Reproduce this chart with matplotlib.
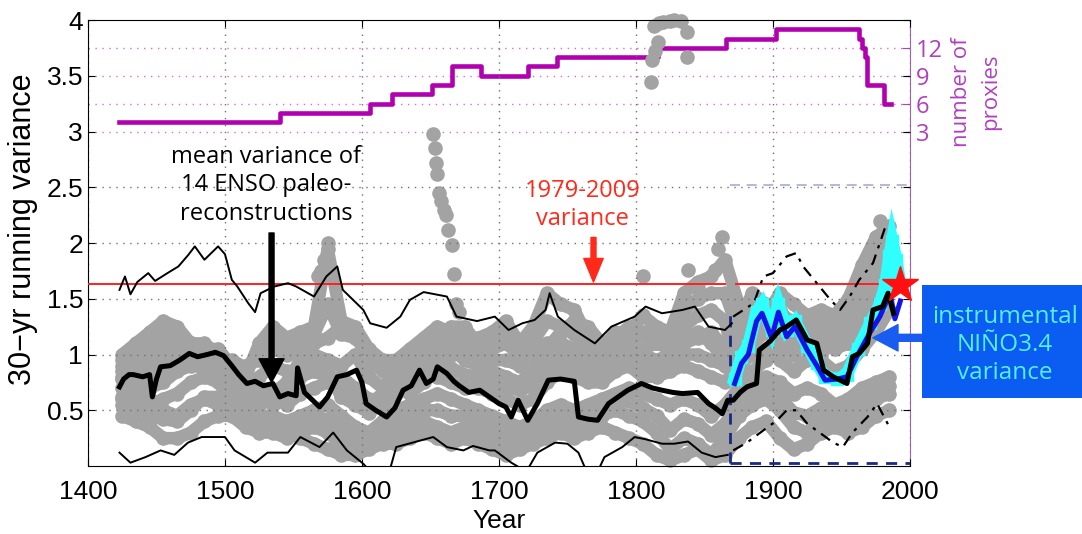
import matplotlib
matplotlib.use("Agg")
import matplotlib.pyplot as plt
from matplotlib.patches import Rectangle

# ============================================================
# DADOS
# ============================================================
# variancia de cada proxy (pontos cinzas), a cada 10 anos
GRAY_YR = list(range(1425, 1986, 10))
G1 = [1.00, 1.10, 1.20, 1.30, 1.25, 1.10, 1.05, 1.05, 0.90, 0.80, 1.10,
      1.25, 1.15, 1.20, 1.25, 1.95, 1.30, 1.25, 1.05, 0.95, 0.95, 1.05,
      1.15, 1.25, 1.20, 1.15, 1.15, 1.20, 1.30, 1.10, 1.25, 1.55, 1.45,
      1.40, 1.15, 1.05, 1.20, 1.20, 1.35, 1.25, 1.20, 1.55, 1.65, 1.70,
      1.85, 1.45, 1.40, 1.35, 1.55, 1.45, 1.35, 1.40, 1.35, 1.50, 1.80, 2.05, 2.15]
G2 = [0.85, 0.90, 0.95, 1.00, 1.05, 1.10, 1.10, 1.00, 0.80, 0.75, 0.70,
      0.65, 0.75, 0.95, 1.00, 0.95, 0.90, 1.00, 0.80, 0.70, 0.85, 0.90,
      1.00, 1.10, 1.05, 0.95, 0.90, 0.85, 0.80, 0.75, 0.85, 1.00, 1.10,
      1.05, 0.95, 0.90, 1.00, 1.05, 1.00, 0.95, 1.00, 1.10, 1.15, 1.20,
      1.05, 1.10, 1.20, 1.35, 1.20, 1.10, 1.30, 1.20, 1.15, 1.25, 1.55, 1.85, 1.95]
G3 = [0.70, 0.75, 0.70, 0.75, 0.85, 0.90, 0.95, 0.90, 0.70, 0.60, 0.55,
      0.60, 0.55, 0.65, 0.70, 0.75, 0.80, 0.70, 0.60, 0.55, 0.65, 0.75,
      0.85, 0.80, 0.75, 0.70, 0.70, 0.65, 0.60, 0.55, 0.60, 0.75, 0.85,
      0.80, 0.75, 0.75, 0.85, 0.90, 0.80, 0.80, 0.85, 0.90, 0.85, 0.80,
      0.75, 0.90, 1.00, 1.05, 0.95, 0.85, 0.95, 1.05, 1.25, 1.10, 1.35, 1.55, 1.70]
G4 = [0.55, 0.50, 0.55, 0.60, 0.65, 0.75, 0.80, 0.75, 0.60, 0.50, 0.45,
      0.45, 0.40, 0.45, 0.50, 0.55, 0.45, 0.35, 0.30, 0.40, 0.50, 0.55,
      0.60, 0.65, 0.60, 0.55, 0.50, 0.45, 0.40, 0.35, 0.40, 0.50, 0.55,
      0.50, 0.55, 0.60, 0.65, 0.70, 0.65, 0.60, 0.55, 0.60, 0.55, 0.45,
      0.55, 0.70, 0.75, 0.80, 0.75, 0.65, 0.70, 0.65, 0.55, 0.60, 0.70, 0.75, 0.80]
G5 = [0.45, 0.40, 0.35, 0.25, 0.25, 0.30, 0.40, 0.45, 0.45, 0.35, 0.30,
      0.30, 0.25, 0.30, 0.35, 0.30, 0.20, 0.15, 0.20, 0.25, 0.30, 0.35,
      0.40, 0.35, 0.30, 0.35, 0.30, 0.25, 0.20, 0.25, 0.30, 0.35, 0.40,
      0.35, 0.40, 0.45, 0.50, 0.45, 0.40, 0.30, 0.15, 0.25, 0.20, 0.10,
      0.25, 0.45, 0.55, 0.60, 0.50, 0.35, 0.30, 0.40, 0.45, 0.40, 0.45, 0.60, 0.65]
G6 = [0.95, 0.85, 0.80, 0.85, 0.95, 1.00, 0.95, 0.85, 0.75, 0.70, 0.80,
      0.90, 0.85, 0.80, 0.85, 0.80, 0.70, 0.60, 0.55, 0.65, 0.70, 0.65,
      0.75, 0.95, 1.00, 1.05, 1.00, 1.05, 1.10, 1.00, 0.95, 1.05, 1.20,
      1.30, 1.25, 1.10, 1.15, 1.25, 1.20, 1.10, 1.05, 1.15, 1.20, 1.10,
      0.95, 1.30, 1.55, 1.45, 1.40, 1.25, 1.10, 1.00, 1.15, 1.25, 1.35, 1.55, 1.75]
G7 = [0.60, 0.65, 0.60, 0.50, 0.45, 0.55, 0.60, 0.55, 0.50, 0.45, 0.40,
      0.35, 0.35, 0.25, 0.20, 0.15, 0.10, 0.10, 0.15, 0.20, 0.20, 0.25,
      0.30, 0.25, 0.20, 0.25, 0.20, 0.15, 0.10, 0.15, 0.20, 0.25, 0.30,
      0.25, 0.30, 0.35, 0.30, 0.25, 0.20, 0.10, 0.05, 0.10, 0.15, 0.05,
      0.10, 0.25, 0.35, 0.40, 0.25, 0.15, 0.20, 0.30, 0.35, 0.30, 0.35, 0.45, 0.50]
G8 = [0.80, 0.95, 1.05, 1.10, 1.05, 0.95, 0.85, 0.80, 0.85, 0.90, 0.95,
      1.05, 1.00, 1.05, 1.10, 1.15, 1.25, 1.20, 0.95, 0.85, 0.80, 0.85,
      0.95, 1.05, 1.15, 1.10, 1.00, 0.95, 0.95, 0.90, 1.00, 1.10, 1.00,
      0.95, 0.85, 0.80, 0.90, 0.95, 1.05, 1.10, 1.15, 1.25, 1.35, 1.40,
      1.30, 0.75, 0.85, 0.95, 1.05, 1.15, 1.05, 0.95, 0.85, 0.90, 1.05, 1.20, 1.40]
G9 = [0.78, 0.82, 0.88, 0.92, 0.95, 0.98, 1.02, 0.95, 0.78, 0.68, 0.62,
      0.55, 0.62, 0.85, 0.90, 0.85, 0.62, 0.55, 0.48, 0.62, 0.75, 0.80,
      0.90, 0.92, 0.88, 0.82, 0.80, 0.75, 0.70, 0.68, 0.72, 0.88, 0.95,
      0.92, 0.85, 0.82, 0.92, 0.98, 0.92, 0.88, 0.92, 1.00, 1.00, 0.95,
      0.90, 0.95, 1.10, 1.20, 1.10, 1.00, 1.20, 1.15, 1.05, 1.10, 1.45, 1.70, 1.85]
G10 = [0.62, 0.58, 0.45, 0.42, 0.40, 0.50, 0.62, 0.62, 0.55, 0.42, 0.38,
       0.38, 0.32, 0.38, 0.42, 0.42, 0.32, 0.25, 0.25, 0.32, 0.40, 0.45,
       0.50, 0.50, 0.45, 0.45, 0.40, 0.35, 0.30, 0.30, 0.35, 0.42, 0.48,
       0.42, 0.48, 0.52, 0.58, 0.58, 0.52, 0.45, 0.32, 0.42, 0.38, 0.28,
       0.38, 0.58, 0.65, 0.70, 0.62, 0.48, 0.45, 0.52, 0.50, 0.50, 0.58, 0.68, 0.72]
G11 = [0.90, 1.00, 1.12, 1.22, 1.15, 1.02, 0.98, 0.95, 0.95, 0.88, 1.00,
       1.15, 1.10, 1.12, 1.18, 1.45, 1.18, 1.15, 1.00, 0.92, 0.88, 0.95,
       1.05, 1.15, 1.25, 1.25, 1.08, 1.10, 1.18, 1.02, 1.12, 1.30, 1.25,
       1.18, 1.05, 0.95, 1.05, 1.10, 1.18, 1.18, 1.08, 1.40, 1.50, 1.55,
       1.55, 1.20, 1.30, 1.25, 1.35, 1.30, 1.20, 1.30, 1.25, 1.35, 1.65, 1.90, 2.00]
GRAY_TRACKS = [G1, G2, G3, G4, G5, G6, G7, G8, G9, G10, G11]

# pontos isolados (valores altos)
OUT_YR = [1652, 1653, 1654, 1655, 1656, 1658, 1660, 1661, 1663, 1666, 1667, 1669, 1671,
          1568, 1570, 1572, 1575, 1805, 1811, 1812, 1814, 1816, 1813, 1817, 1820, 1825,
          1828, 1833, 1837, 1837, 1838, 1845, 1858, 1860, 1863, 1975, 1978, 1982, 1986]
OUT_VAL = [2.98, 2.85, 2.72, 2.62, 2.45, 2.38, 2.30, 2.25, 2.12, 1.98, 1.72, 1.45, 1.38,
           1.70, 1.75, 1.85, 2.00, 1.70, 3.44, 3.64, 3.72, 3.80, 3.95, 3.97, 3.98, 3.99,
           4.00, 3.99, 3.89, 3.67, 1.76, 1.60, 1.76, 1.95, 2.05, 2.05, 2.20, 2.10, 2.00]

# media das 14 reconstrucoes
MEAN_YR = [1423, 1426, 1430, 1433, 1440, 1445, 1447, 1450, 1453, 1460, 1467, 1474,
           1480, 1487, 1493, 1499, 1505, 1510, 1516, 1522, 1528, 1535, 1540, 1546,
           1552, 1553, 1558, 1564, 1569, 1575, 1582, 1589, 1596, 1600, 1603, 1610,
           1618, 1624, 1630, 1636, 1642, 1647, 1652, 1655, 1662, 1667, 1671, 1678,
           1686, 1693, 1700, 1705, 1709, 1714, 1721, 1728, 1736, 1745, 1755, 1758,
           1765, 1772, 1780, 1787, 1794, 1804, 1812, 1819, 1827, 1834, 1845, 1853,
           1858, 1863, 1867, 1871, 1876, 1881, 1888, 1890, 1898, 1905, 1910, 1917,
           1925, 1932, 1937, 1944, 1954, 1958, 1963, 1969, 1973, 1980, 1984, 1988]
MEAN_VAL = [0.71, 0.78, 0.82, 0.82, 0.80, 0.82, 0.62, 0.78, 0.89, 0.90, 0.95, 1.01,
            0.98, 1.00, 1.02, 0.99, 0.90, 0.82, 0.74, 0.76, 0.72, 0.74, 0.62, 0.65,
            0.63, 0.88, 0.66, 0.59, 0.53, 0.62, 0.80, 0.82, 0.86, 0.75, 0.56, 0.50,
            0.44, 0.52, 0.68, 0.72, 0.86, 0.74, 0.78, 0.89, 0.83, 0.76, 0.72, 0.66,
            0.68, 0.62, 0.56, 0.53, 0.44, 0.59, 0.41, 0.56, 0.77, 0.78, 0.76, 0.44,
            0.42, 0.41, 0.56, 0.62, 0.68, 0.74, 0.70, 0.68, 0.66, 0.65, 0.66, 0.56,
            0.52, 0.47, 0.59, 0.59, 0.66, 0.71, 0.74, 1.04, 1.12, 1.22, 1.25, 1.31,
            1.13, 1.10, 0.86, 0.80, 0.74, 0.98, 1.01, 1.10, 1.40, 1.43, 1.55, 1.37]

# envelope superior / inferior (ate 1870 continuo, depois tracejado)
UP_YR = [1423, 1427, 1431, 1436, 1444, 1449, 1458, 1466, 1473, 1478, 1485, 1495,
         1500, 1505, 1509, 1517, 1522, 1526, 1536, 1546, 1552, 1565, 1574, 1582,
         1586, 1601, 1606, 1618, 1628, 1635, 1645, 1662, 1669, 1684, 1697, 1707,
         1717, 1726, 1734, 1737, 1743, 1755, 1770, 1782, 1799, 1807, 1819, 1834,
         1843, 1853, 1865, 1870]
UP_VAL = [1.58, 1.70, 1.54, 1.65, 1.73, 1.66, 1.73, 1.79, 1.89, 1.97, 1.85, 1.97,
          1.90, 1.67, 1.61, 1.46, 1.38, 1.55, 1.61, 1.64, 1.61, 1.52, 1.70, 1.79,
          1.58, 1.40, 1.28, 1.24, 1.34, 1.49, 1.56, 1.52, 1.34, 1.30, 1.34, 1.22,
          1.28, 1.31, 1.40, 1.55, 1.34, 1.22, 1.10, 1.25, 1.34, 1.43, 1.37, 1.40,
          1.43, 1.25, 1.22, 1.28]
UP2_YR = [1871, 1886, 1893, 1900, 1910, 1917, 1922, 1932, 1942, 1949, 1956, 1963, 1973, 1983]
UP2_VAL = [1.34, 1.46, 1.70, 1.73, 1.88, 1.91, 1.79, 1.64, 1.49, 1.40, 1.52, 1.67, 1.82, 2.18]

LO_YR = [1423, 1431, 1442, 1453, 1463, 1473, 1483, 1492, 1500, 1507, 1522, 1531,
         1546, 1555, 1569, 1579, 1589, 1601, 1606, 1613, 1620, 1625, 1637, 1652,
         1662, 1674, 1681, 1693, 1697, 1709, 1720, 1728, 1741, 1750, 1758, 1764,
         1772, 1777, 1790, 1799, 1807, 1819, 1828, 1838, 1848, 1858, 1867]
LO_VAL = [0.12, 0.03, 0.08, 0.14, 0.10, 0.21, 0.26, 0.26, 0.26, 0.14, 0.03, 0.12,
          0.12, 0.26, 0.17, 0.30, 0.14, 0.02, -0.05, -0.05, -0.05, 0.17, 0.21, 0.26,
          0.17, 0.14, 0.18, 0.14, 0.14, 0.03, -0.05, 0.12, 0.21, 0.20, 0.12, -0.05,
          -0.05, 0.08, 0.17, 0.26, 0.24, 0.20, 0.20, 0.22, 0.12, 0.08, 0.10]
LO2_YR = [1871, 1881, 1893, 1903, 1910, 1917, 1925, 1934, 1944, 1951, 1958, 1969, 1976, 1985]
LO2_VAL = [0.14, 0.21, 0.32, 0.41, 0.50, 0.50, 0.38, 0.30, 0.21, 0.17, 0.30, 0.44, 0.56, 0.35]

# NINO3.4 instrumental (azul) e segunda serie (ciano)
NINO_YR = [1872, 1877, 1882, 1888, 1892, 1899, 1904, 1910, 1916, 1925, 1932,
           1938, 1947, 1954, 1962, 1971, 1978, 1983, 1986, 1989, 1993]
NINO_VAL = [0.74, 0.92, 1.00, 1.30, 1.37, 1.15, 1.38, 1.16, 1.25, 1.04, 0.90,
            0.77, 0.78, 0.80, 1.00, 1.20, 1.34, 1.48, 1.52, 1.32, 1.48]
NINO2_YR = [1872, 1877, 1882, 1888, 1892, 1899, 1904, 1910, 1916, 1925, 1932,
            1938, 1947, 1954, 1962, 1971, 1978, 1982, 1985, 1987, 1990, 1993]
NINO2_VAL = [0.78, 0.98, 1.08, 1.38, 1.45, 1.22, 1.45, 1.22, 1.30, 1.08, 0.92,
             0.80, 0.78, 0.82, 1.05, 1.28, 1.45, 1.62, 1.88, 2.02, 1.85, 1.62]

# numero de proxies (eixo da direita)
PROXY_YR = [1423, 1540, 1606, 1622, 1651, 1666, 1687, 1721, 1742, 1816, 1866,
            1902, 1963, 1965, 1967, 1969, 1981, 1986]
PROXY_N = [4, 5, 6, 7, 8, 10, 9, 10, 11, 12, 13, 14, 13, 12, 11, 8, 6, 6]

RECENT_VAR = 1.63          # variancia 1979-2009
RED_SPANS = [(1400, 1866), (1872, 1993)]
STAR_YR, STAR_VAL = 1993, 1.62

# ============================================================
# FIGURA
# ============================================================
GRAY = "#a3a3a3"
PURPLE = "#b000b0"
PTEXT = "#b040c0"
ANNOT_FONT = ["Open Sans", "DejaVu Sans"]
AXES_FONT = ["Liberation Sans", "DejaVu Sans"]

fig = plt.figure(figsize=(10.82, 5.34), dpi=100)
ax = fig.add_axes([0.0813, 0.1273, 0.7597, 0.8352])
ax2 = ax.twinx()
ax.set_zorder(ax2.get_zorder() + 1)
ax.patch.set_visible(False)

# eixo de proxies
ax2.plot(PROXY_YR, PROXY_N, drawstyle="steps-post", color=PURPLE, lw=3.3)
ax2.set_ylim(-33, 15)
ax2.set_yticks([3, 6, 9, 12])
ax2.tick_params(axis="y", colors=PTEXT, direction="in", length=6, labelsize=17, pad=4)
for lab in ax2.get_yticklabels():
    lab.set_fontfamily(ANNOT_FONT)
ax2.grid(axis="y", ls=(0, (1, 4)), color="#d070d0", lw=1.0)
ax2.spines["right"].set_color("#a060b0")
ax2.spines["top"].set_visible(False)
ax2.spines["left"].set_visible(False)
ax2.spines["bottom"].set_visible(False)

# pontos cinzas
for g in GRAY_TRACKS:
    ax.plot(GRAY_YR, g, color=GRAY, lw=9, marker="o", ms=9.5, mec=GRAY,
            solid_capstyle="round", solid_joinstyle="round", clip_on=False, zorder=1)
ax.plot(OUT_YR, OUT_VAL, "o", color=GRAY, ms=9.5, clip_on=False, zorder=1)

# caixa tracejada (periodo instrumental)
ax.hlines(0.03, 1869, 2000, colors="#1a2a80", linestyles=(0, (4, 3)), lw=2, zorder=3)
ax.vlines(1869, 0.03, 1.4, colors="#1a2a80", linestyles=(0, (4, 3)), lw=2, zorder=3)
ax.hlines(2.52, 1869, 2000, colors="#a8acd8", linestyles=(0, (6, 4)), lw=1.2, zorder=3)

# variancia recente
for x0, x1 in RED_SPANS:
    ax.hlines(RECENT_VAR, x0, x1, colors="#ff2020", lw=1.4, zorder=3)

# envelopes
ax.plot(UP_YR, UP_VAL, color="k", lw=1.4, zorder=4)
ax.plot(LO_YR, LO_VAL, color="k", lw=1.4, zorder=4)
ax.plot(UP2_YR, UP2_VAL, color="k", lw=1.6, ls=(0, (5, 3, 1.5, 3)), zorder=4)
ax.plot(LO2_YR, LO2_VAL, color="k", lw=1.6, ls=(0, (5, 3, 1.5, 3)), zorder=4)

# instrumental
ax.plot(NINO2_YR, NINO2_VAL, color="#30ffff", lw=9, marker="s", ms=8,
        solid_joinstyle="miter", zorder=5)
ax.plot(NINO_YR, NINO_VAL, color="#1414e8", lw=3.6, zorder=6)

# media
ax.plot(MEAN_YR, MEAN_VAL, color="k", lw=3.6, zorder=7)

# estrela
ax.plot(STAR_YR, STAR_VAL, marker="*", color="#ff1010", ms=27, clip_on=False, zorder=8)

# eixos
ax.set_xlim(1400, 2000)
ax.set_ylim(0, 4)
ax.set_xticks(range(1400, 2001, 100))
ax.set_yticks([0.5, 1, 1.5, 2, 2.5, 3, 3.5, 4])
ax.set_yticklabels(["0.5", "1", "1.5", "2", "2.5", "3", "3.5", "4"])
ax.tick_params(axis="x", pad=10)
ax.tick_params(direction="in", length=5, labelsize=19, top=True, right=True)
for lab in ax.get_xticklabels() + ax.get_yticklabels():
    lab.set_fontfamily(AXES_FONT)
ax.grid(True, ls=(0, (1, 4)), color="#707070", lw=1.0)
for t in ax.yaxis.get_major_ticks():
    if t.get_loc() >= 3:
        t.gridline.set_visible(False)
ax.spines["right"].set_visible(False)
ax.set_xlabel("Year", fontsize=19, family=AXES_FONT, labelpad=4)
ax.set_ylabel("30\u2212yr running variance", fontsize=22, family=AXES_FONT)
ax.yaxis.set_label_coords(-0.061, 0.531)

# anotacoes
ax.text(1530, 2.52, "mean variance of\n14 ENSO paleo-\nreconstructions", ha="center",
        va="center", fontsize=17, family=ANNOT_FONT, linespacing=1.25, zorder=9)
ax.annotate("", xy=(1534, 0.75), xytext=(1534, 2.09),
            arrowprops=dict(facecolor="k", edgecolor="k", width=3.6, headwidth=18,
                            headlength=17, shrink=0), zorder=9)
ax.text(1761, 2.34, "1979-2009\nvariance", ha="center", va="center", fontsize=17,
        color="#ff2a1a", family=ANNOT_FONT, linespacing=1.2, zorder=9)
ax.annotate("", xy=(1769, 1.65), xytext=(1769, 2.05),
            arrowprops=dict(facecolor="#ff2a1a", edgecolor="#ff2a1a", width=3.6,
                            headwidth=14, headlength=17, shrink=0), zorder=9)
ax.annotate("", xy=(1973, 1.15), xytext=(2009, 1.15), annotation_clip=False,
            arrowprops=dict(facecolor="#1a5cf0", edgecolor="#1a5cf0", width=5,
                            headwidth=19, headlength=18, shrink=0), zorder=9)

fig.text(0.902, 0.828, "number of\nproxies", rotation=90, ha="center", va="center",
         color=PTEXT, fontsize=16, family=ANNOT_FONT, linespacing=1.5)

fig.patches.append(Rectangle((0.852, 0.2547), 0.16, 0.2116, transform=fig.transFigure,
                             facecolor="#0b5cf0", edgecolor="none"))
fig.text(0.929, 0.354, "instrumental\nNI\u00d1O3.4\nvariance", ha="center", va="center",
         color="#55f0ff", fontsize=17.5, family=ANNOT_FONT, linespacing=1.2)

fig.savefig("out.png", dpi=100)
